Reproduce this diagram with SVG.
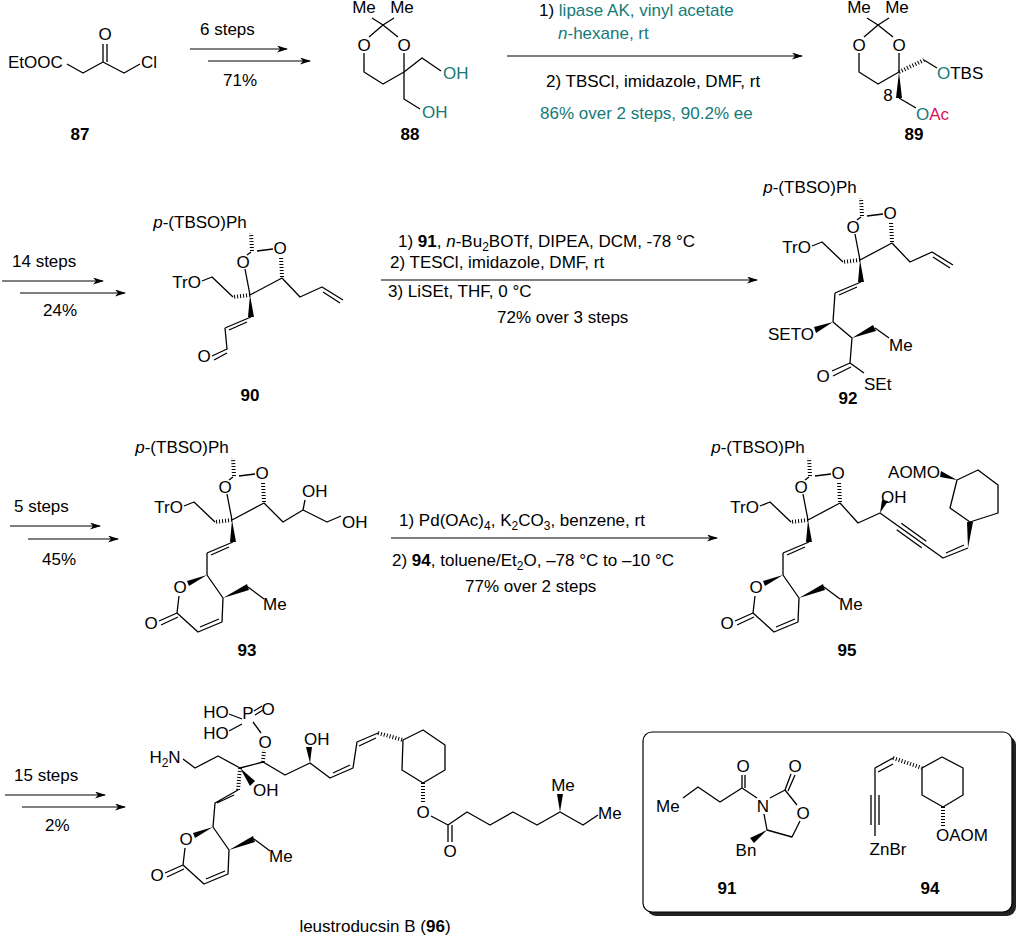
<svg xmlns="http://www.w3.org/2000/svg" xmlns:xlink="http://www.w3.org/1999/xlink" width="1024" height="942" viewBox="0 0 1024 942">
<style>
text{font-family:"Liberation Sans",Arial,sans-serif;font-size:17px;fill:#000}
.b{stroke:#000;stroke-width:1.3;fill:none;stroke-linejoin:round}
.a{stroke:#000;stroke-width:1.2;fill:none}
.h{stroke:#000;stroke-width:4;stroke-dasharray:1 2;fill:none}
.w{fill:#000;stroke:none}
.lb{font-weight:bold}
.tl{fill:#167a78}
.cr{fill:#d4145a}
.m{text-anchor:middle}
.e{text-anchor:end}
.s{font-size:12px}
</style>
<defs>
<marker id="ar" markerWidth="12" markerHeight="8" refX="10" refY="3.5" orient="auto" markerUnits="userSpaceOnUse">
<path d="M0,0 L11,3.5 L0,7 L3,3.5 z" fill="#000"/>
</marker>
<g id="core">
<path class="b" d="M7,-44 L23,-46 M32,-17 L0,0 L-5,-26 M-3,-40 L1,-43"/>
<path class="h" d="M32,-18 L31,-38"/>
<path class="h" d="M2,-44 L1,-62"/>
<text x="30" y="-41" class="m">O</text>
<text x="-7" y="-27" class="m">O</text>
<text x="-50" y="-67" class="m"><tspan font-style="italic">p</tspan>-(TBSO)Ph</text>
<path class="h" d="M0,0 L-17,2"/>
<path class="b" d="M-17,2 L-38,-18 L-48,-14"/>
<text x="-49" y="-7" class="e">TrO</text>
<polygon class="w" points="0,0 -2,22 4,22"/>
<path class="b" d="M1,22 L-25,33 M-3,27 L-21,35"/>
</g>
<g id="lac">
<polygon class="w" points="0,0 -20,6 -18,11"/>
<text x="-27" y="18" class="m">O</text>
<path class="b" d="M-28,21 L-30,38 L-48,46 M-29,42 L-46,50 M-30,38 L-9,57 L15,47 L16,23 L0,0 M-7,52 L12,44"/>
<text x="-56" y="54" class="m">O</text>
<polygon class="w" points="16,23 40,9 42,15"/>
<path class="b" d="M41,12 L57,24"/>
<text x="56" y="35">Me</text>
</g>
<g id="diox">
<path class="b" d="M0,0 L-11,-7 M0,0 L11,-7 M0,0 L-14,12 M0,0 L15,12 M-19,28 L-19,47 L0,59 L21,47 L21,28"/>
<text x="-19" y="-12" class="m">Me</text>
<text x="19" y="-12" class="m">Me</text>
<text x="-19" y="26" class="m">O</text>
<text x="21" y="26" class="m">O</text>
</g>
</defs>

<g id="connectors">
<path class="a" d="M190,49 L287,49" marker-end="url(#ar)"/>
<path class="a" d="M208,61 L310,61" marker-end="url(#ar)"/>
<path class="a" d="M507,56 L802,56" marker-end="url(#ar)"/>
<path class="a" d="M2,281 L103,281" marker-end="url(#ar)"/>
<path class="a" d="M20,293 L125,293" marker-end="url(#ar)"/>
<path class="a" d="M381,280 L757,280" marker-end="url(#ar)"/>
<path class="a" d="M10,526 L100,526" marker-end="url(#ar)"/>
<path class="a" d="M28,539 L118,539" marker-end="url(#ar)"/>
<path class="a" d="M391,538 L717,538" marker-end="url(#ar)"/>
<path class="a" d="M5,795 L105,795" marker-end="url(#ar)"/>
<path class="a" d="M22,807 L125,807" marker-end="url(#ar)"/>
</g>

<g id="conditions">
<text x="200" y="35">6 steps</text>
<text x="223" y="86">71%</text>
<text x="539" y="16">1) <tspan class="tl">lipase AK, vinyl acetate</tspan></text>
<text x="558" y="39" class="tl"><tspan font-style="italic">n</tspan>-hexane, rt</text>
<text x="546" y="87">2) TBSCl, imidazole, DMF, rt</text>
<text x="540" y="119" class="tl">86% over 2 steps, 90.2% ee</text>
<text x="12" y="267">14 steps</text>
<text x="43" y="316">24%</text>
<text x="398" y="247">1) <tspan font-weight="bold">91</tspan>, <tspan font-style="italic">n</tspan>-Bu<tspan class="s" dy="4">2</tspan><tspan dy="-4">BOTf, DIPEA, DCM, -78 °C</tspan></text>
<text x="390" y="268">2) TESCl, imidazole, DMF, rt</text>
<text x="388" y="297">3) LiSEt, THF, 0 °C</text>
<text x="497" y="323">72% over 3 steps</text>
<text x="14" y="512">5 steps</text>
<text x="42" y="565">45%</text>
<text x="399" y="526">1) Pd(OAc)<tspan class="s" dy="4">4</tspan><tspan dy="-4">, K</tspan><tspan class="s" dy="4">2</tspan><tspan dy="-4">CO</tspan><tspan class="s" dy="4">3</tspan><tspan dy="-4">, benzene, rt</tspan></text>
<text x="392" y="566">2) <tspan font-weight="bold">94</tspan>, toluene/Et<tspan class="s" dy="4">2</tspan><tspan dy="-4">O, –78 °C to –10 °C</tspan></text>
<text x="465" y="592">77% over 2 steps</text>
<text x="14" y="781">15 steps</text>
<text x="45" y="831">2%</text>
</g>

<g id="c87">
<text x="8" y="68">EtOOC</text>
<path class="b" d="M67,64 L83,73 L103,62 L124,73 L140,64 M103,62 L103,44 M107,62 L107,44"/>
<text x="105" y="40" class="m">O</text>
<text x="141" y="68">Cl</text>
<text x="80" y="140" class="m lb">87</text>
</g>

<g id="c88">
<use xlink:href="#diox" transform="translate(383,25)"/>
<path class="b" d="M404,72 L422,58 L441,71 M404,72 L404,99 L420,109"/>
<text x="443" y="79" class="tl">OH</text>
<text x="422" y="118" class="tl">OH</text>
<text x="410" y="140" class="m lb">88</text>
</g>

<g id="c89">
<use xlink:href="#diox" transform="translate(878,25)"/>
<path class="h" d="M899,72 L924,60"/>
<path class="b" d="M924,60 L937,68"/>
<text x="937" y="79"><tspan class="tl">O</tspan>TBS</text>
<polygon class="w" points="899,72 896,98 902,98"/>
<path class="b" d="M899,98 L916,108"/>
<text x="916" y="120"><tspan class="tl">O</tspan><tspan class="cr">Ac</tspan></text>
<text x="888" y="101" class="m" font-size="12" fill="#2a3a8a">8</text>
<text x="914" y="140" class="m lb">89</text>
</g>

<g id="c90">
<use xlink:href="#core" transform="translate(250,295)"/>
<path class="b" d="M282,278 L300,297 L322,287 L343,300 M323,292 L340,303"/>
<path class="b" d="M225,328 L227,349 L212,356 M227,353 L214,360"/>
<text x="204" y="362" class="m">O</text>
<text x="250" y="401" class="m lb">90</text>
</g>

<g id="c92">
<use xlink:href="#core" transform="translate(860,260)"/>
<path class="b" d="M892,243 L910,262 L932,252 L953,265 M933,257 L950,268"/>
<path class="b" d="M835,293 L833,322"/>
<polygon class="w" points="833,322 814,327 816,333"/>
<text x="814" y="340" class="e">SETO</text>
<path class="b" d="M833,322 L852,338 L850,363"/>
<polygon class="w" points="852,338 873,325 876,331"/>
<path class="b" d="M875,328 L889,338"/>
<text x="889" y="351">Me</text>
<path class="b" d="M850,363 L832,371 M851,367 L833,376 M850,363 L864,373"/>
<text x="823" y="382" class="m">O</text>
<text x="864" y="390">SEt</text>
<text x="848" y="404" class="m lb">92</text>
</g>

<g id="c93">
<use xlink:href="#core" transform="translate(232,520)"/>
<path class="b" d="M264,503 L283,522 L303,510 L305,500 M303,510 L327,522 L341,516"/>
<text x="302" y="497">OH</text>
<text x="342" y="528">OH</text>
<path class="b" d="M207,553 L207,575"/>
<use xlink:href="#lac" transform="translate(207,575)"/>
<text x="247" y="656" class="m lb">93</text>
</g>

<g id="c95">
<use xlink:href="#core" transform="translate(808,520)"/>
<path class="b" d="M840,503 L858,523 L880,513 L943,558 L968,548 M896.7,529.8 L921.7,547.8 M901.3,523.2 L926.3,541.2 M946,553 L964,545"/>
<polygon class="w" points="880,513 882,500 888,501"/>
<text x="881" y="503">OH</text>
<polygon class="w" points="968,548 967,522 973,522"/>
<path class="b" d="M957,480 L978,470 L998,485 L998,513 L970,522 L950,508 Z"/>
<polygon class="w" points="957,480 941,471 940,477"/>
<text x="940" y="478" class="e">AOMO</text>
<path class="b" d="M783,553 L783,575"/>
<use xlink:href="#lac" transform="translate(783,575)"/>
<text x="847" y="656" class="m lb">95</text>
</g>

<g id="c96">
<text x="216" y="718" class="m">HO</text>
<text x="248" y="719" class="m">P</text>
<text x="268" y="715" class="m">O</text>
<text x="216" y="739" class="m">HO</text>
<text x="265" y="748" class="m">O</text>
<path class="b" d="M229,714 L242,719 M229,731 L242,724 M254,711 L262,706 M255,715 L263,710 M253,722 L261,733"/>
<text x="165" y="763" class="m">H<tspan class="s" dy="4">2</tspan><tspan dy="-4">N</tspan></text>
<path class="b" d="M183,759 L195,768 L218,756 L240,768 L263,762 L285,775 L310,763 L330,778 L353,768 L357,742 L378,733 M333,773 L350,765 M359,746 L376,738"/>
<path class="h" d="M263,762 L264,750"/>
<polygon class="w" points="240,768 250,786 255,781"/>
<text x="253" y="796">OH</text>
<polygon class="w" points="310,763 306,747 312,747"/>
<text x="304" y="745">OH</text>
<path class="h" d="M378,733 L403,740"/>
<path class="b" d="M403,740 L423,730 L445,745 L445,770 L423,783 L402,770 Z"/>
<path class="h" d="M423,783 L423,802"/>
<text x="423" y="818" class="m">O</text>
<path class="b" d="M431,816 L448,825 L467,812 L490,825 L513,812 L537,825 L560,812 L583,825 L598,815 M448,825 L448,842 M452,825 L452,842"/>
<text x="450" y="857" class="m">O</text>
<polygon class="w" points="560,812 557,794 563,794"/>
<text x="563" y="791" class="m">Me</text>
<text x="598" y="819">Me</text>
<path class="h" d="M240,768 L238,790"/>
<path class="b" d="M238,790 L215,803 L213,827 M234,795 L217,803"/>
<use xlink:href="#lac" transform="translate(213,827)"/>
<text x="375" y="932" class="m">leustroducsin B (<tspan font-weight="bold">96</tspan>)</text>
</g>

<g id="box">
<rect x="647" y="736" width="369" height="180" rx="9" fill="#222"/>
<rect x="643" y="732" width="369" height="180" rx="9" fill="#fff" stroke="#000" stroke-width="1.2"/>
</g>

<g id="c91">
<text x="656" y="812">Me</text>
<path class="b" d="M683,798 L698,787 L720,802 L742,788 L742,775 M745,788 L745,775 M742,788 L757,798 M770,798 L785,790 L797,805 M785,790 L791,774 M788,791 L795,775 M800,821 L792,837 L767,830 L764,814"/>
<text x="743" y="772" class="m">O</text>
<text x="763" y="812" class="m">N</text>
<text x="795" y="772" class="m">O</text>
<text x="803" y="819" class="m">O</text>
<polygon class="w" points="767,830 750,838 754,843"/>
<text x="746" y="856" class="m">Bn</text>
<text x="727" y="894" class="m lb">91</text>
</g>

<g id="c94">
<path class="b" d="M875,836 L875,768 L893,758 M871,795 L871,825 M879,795 L879,825 M878,772 L893,764"/>
<text x="888" y="855" class="m">ZnBr</text>
<path class="h" d="M893,758 L922,768"/>
<path class="b" d="M922,768 L942,757 L963,768 L963,795 L943,807 L922,795 Z"/>
<path class="h" d="M943,807 L943,826"/>
<text x="936" y="841">OAOM</text>
<text x="930" y="894" class="m lb">94</text>
</g>
</svg>
